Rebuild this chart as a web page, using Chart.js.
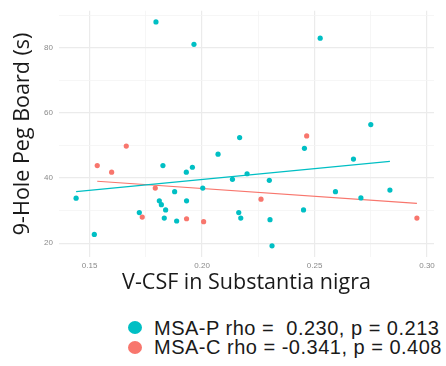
<!DOCTYPE html>
<html lang="en">
<head>
    <meta charset="UTF-8">
    <title>9-Hole Peg Board vs V-CSF</title>
    <script src="https://cdn.jsdelivr.net/npm/chart.js"></script>
    <style>
        body, html {
            margin: 0;
            padding: 0;
            background: #fff;
        }
        #wrap {
            position: relative;
            width: 446px;
            height: 366px;
        }
        #plot {
            position: absolute;
            left: 0;
            top: 0;
            width: 446px;
            height: 300px;
        }
        #legend {
            position: absolute;
            left: 128px;
            top: 318px;
            font-family: "Liberation Sans", Arial, sans-serif;
            font-size: 20px;
            letter-spacing: 0.5px;
            color: #1a1a1a;
            line-height: 20px;
        }
        .item {
            display: flex;
            align-items: center;
            white-space: pre;
            height: 19.5px;
        }
        .dot {
            width: 14px;
            height: 13px;
            border-radius: 50%;
            margin-right: 12px;
        }
    </style>
</head>
<body>
    <div id="wrap">
        <div id="plot"><canvas id="chart"></canvas></div>
        <div id="legend"></div>
    </div>
    <script>
        // groups
        var groups = ['MSA-P', 'MSA-C'];
        var colors = ['#00BFC4', '#F8766D'];
        var stats = ['rho =  0.230, p = 0.213', 'rho = -0.341, p = 0.408'];

        // MSA-P: V-CSF in substantia nigra / 9-hole peg board time (s)
        var msaPx = [0.1795, 0.1964, 0.2167, 0.2525, 0.2750, 0.1826, 0.2071, 0.1930, 0.1957, 0.2135,
                     0.2200, 0.1440, 0.1878, 0.2003, 0.1810, 0.1819, 0.1838, 0.1931, 0.1721, 0.1832,
                     0.1887, 0.2163, 0.2172, 0.1521, 0.2455, 0.2673, 0.2299, 0.2593, 0.2706, 0.2835,
                     0.2451, 0.2302, 0.2311];
        var msaPy = [87.9, 81.0, 52.4, 82.9, 56.4, 43.8, 47.3, 41.8, 43.3, 39.6,
                     41.3, 33.8, 35.8, 36.9, 33.0, 31.8, 30.2, 33.0, 29.4, 27.7,
                     26.8, 29.4, 27.7, 22.7, 49.1, 45.8, 39.3, 35.8, 33.9, 36.3,
                     30.2, 27.2, 19.2];

        // MSA-C
        var msaCx = [0.2465, 0.1663, 0.1534, 0.1598, 0.1792, 0.1734, 0.1931, 0.2007, 0.2262, 0.2955];
        var msaCy = [52.9, 49.8, 43.8, 41.8, 36.9, 28.0, 27.5, 26.6, 33.5, 27.7];

        // fitted lines, end points
        var fitPx = [0.1440, 0.2835];
        var fitPy = [35.8, 45.1];
        var fitCx = [0.1534, 0.2955];
        var fitCy = [39.0, 32.2];

        var xTicks = [0.15, 0.175, 0.20, 0.225, 0.25, 0.275, 0.30];
        var yTicks = [20, 30, 40, 50, 60, 70, 80, 90];
        var xLabels = { '0.15': '0.15', '0.2': '0.20', '0.25': '0.25', '0.3': '0.30' };
        var yLabels = { '20': '20', '40': '40', '60': '60', '80': '80' };

        function pts(xs, ys) {
            return xs.map(function(x, i) { return { x: x, y: ys[i] }; });
        }

        function isMajorX(v) { return xLabels.hasOwnProperty(String(+v.toFixed(3))); }
        function isMajorY(v) { return yLabels.hasOwnProperty(String(v)); }

        var ctx = document.getElementById('chart').getContext('2d');
        var chart = new Chart(ctx, {
            type: 'scatter',
            data: {
                datasets: [{
                    label: groups[0],
                    data: pts(msaPx, msaPy),
                    backgroundColor: colors[0],
                    borderWidth: 0,
                    pointRadius: 2.6,
                    order: 1
                }, {
                    label: groups[1],
                    data: pts(msaCx, msaCy),
                    backgroundColor: colors[1],
                    borderWidth: 0,
                    pointRadius: 2.6,
                    order: 1
                }, {
                    label: groups[0] + ' fit',
                    data: pts(fitPx, fitPy),
                    showLine: true,
                    borderColor: colors[0],
                    borderWidth: 1.2,
                    pointRadius: 0,
                    order: 2
                }, {
                    label: groups[1] + ' fit',
                    data: pts(fitCx, fitCy),
                    showLine: true,
                    borderColor: colors[1],
                    borderWidth: 1.2,
                    pointRadius: 0,
                    order: 2
                }]
            },
            options: {
                responsive: true,
                maintainAspectRatio: false,
                animation: false,
                layout: { padding: { left: 0, top: 4, right: 12, bottom: 0 } },
                plugins: {
                    legend: { display: false },
                    tooltip: { enabled: false }
                },
                scales: {
                    x: {
                        type: 'linear',
                        min: 0.1364,
                        max: 0.3031,
                        border: { display: false },
                        afterBuildTicks: function(s) {
                            s.ticks = xTicks.map(function(v) { return { value: v }; });
                        },
                        afterFit: function(s) { s.height = 43; },
                        grid: {
                            drawTicks: false,
                            color: function(c) { return isMajorX(c.tick.value) ? '#ebebeb' : '#f4f4f4'; },
                            lineWidth: function(c) { return isMajorX(c.tick.value) ? 1.2 : 0.8; }
                        },
                        ticks: {
                            padding: 4,
                            maxRotation: 0,
                            autoSkip: false,
                            color: '#8a8a8a',
                            font: { family: 'Liberation Sans', size: 8 },
                            callback: function(v) { return xLabels[String(+v.toFixed(3))] || ''; }
                        },
                        title: {
                            display: true,
                            text: 'V-CSF in Substantia nigra',
                            color: '#1a1a1a',
                            font: { family: 'Open Sans', size: 21.5 },
                            padding: { top: 0, bottom: 4 }
                        }
                    },
                    y: {
                        min: 15.76,
                        max: 91.3,
                        border: { display: false },
                        afterBuildTicks: function(s) {
                            s.ticks = yTicks.map(function(v) { return { value: v }; });
                        },
                        afterFit: function(s) { s.width = 59; },
                        grid: {
                            drawTicks: false,
                            color: function(c) { return isMajorY(c.tick.value) ? '#ebebeb' : '#f4f4f4'; },
                            lineWidth: function(c) { return isMajorY(c.tick.value) ? 1.2 : 0.8; }
                        },
                        ticks: {
                            padding: 6,
                            autoSkip: false,
                            color: '#8a8a8a',
                            font: { family: 'Liberation Sans', size: 8 },
                            callback: function(v) { return yLabels[String(v)] || ''; }
                        },
                        title: {
                            display: true,
                            text: '9-Hole Peg Board (s)',
                            color: '#1a1a1a',
                            font: { family: 'Open Sans', size: 21.5 },
                            padding: { top: 10, bottom: 0 }
                        }
                    }
                }
            }
        });

        // legend under the plot, one row per group
        var legend = document.getElementById('legend');
        groups.forEach(function(g, i) {
            var row = document.createElement('div');
            row.className = 'item';
            var dot = document.createElement('span');
            dot.className = 'dot';
            dot.style.background = colors[i];
            var txt = document.createElement('span');
            txt.textContent = g + ' ' + stats[i];
            row.appendChild(dot);
            row.appendChild(txt);
            legend.appendChild(row);
        });
    </script>
</body>
</html>
